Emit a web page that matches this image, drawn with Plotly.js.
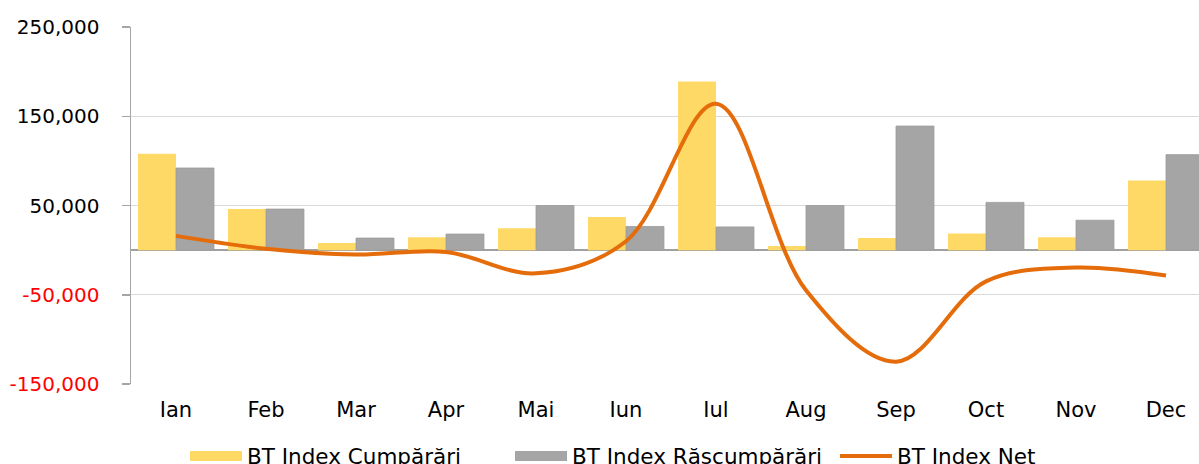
<!DOCTYPE html>
<html>
<head>
<meta charset="utf-8">
<script src="https://cdn.plot.ly/plotly-3.0.1.min.js"></script>
<style>
html, body { margin: 0; padding: 0; overflow: hidden; background: #fff; }
#chart { width: 1199px; height: 464px; }
</style>
</head>
<body>
<div id="chart"></div>
<script>
const months = ["Ian", "Feb", "Mar", "Apr", "Mai", "Iun", "Iul", "Aug", "Sep", "Oct", "Nov", "Dec"];
const cumparari = [108000, 46000, 8000, 14500, 24500, 37000, 189000, 4500, 13500, 18500, 14500, 78000];
const rascumparari = [92000, 46000, 13500, 18000, 50000, 26500, 26000, 50000, 139000, 53500, 33500, 107000];
const net = [16000, 1500, -5000, -2000, -26000, 10000, 164000, -45000, -125000, -35000, -19500, -28500];

const seriesNames = ["BT Index Cumpărări", "BT Index Răscumpărări", "BT Index Net"];
const yTickVals = [-150000, -50000, 50000, 150000, 250000];
const yTickText = ["-150,000", "-50,000", "50,000", "150,000", "250,000"];
const boundaryTicks = [0.5, 1.5, 2.5, 3.5, 4.5, 5.5, 6.5, 7.5, 8.5, 9.5, 10.5];

const colYellow = "#FFD966";
const colGray = "#A5A5A5";
const colOrange = "#E46C0A";
const FONT = "DejaVu Sans, Verdana, sans-serif";

const ticktextStyled = yTickText.map((t, i) =>
  yTickVals[i] < 0 ? '<span style="color:#FF0000">' + t + '</span>' : t);

const traces = [
  {
    type: "bar", x: months, y: cumparari, name: seriesNames[0],
    marker: { color: colYellow }, showlegend: false, hoverinfo: "x+y"
  },
  {
    type: "bar", x: months, y: rascumparari, name: seriesNames[1],
    marker: { color: colGray, line: { color: "#9A9A9A", width: 0.8 } }, showlegend: false, hoverinfo: "x+y"
  },
  {
    type: "scatter", mode: "lines", x: months, y: net, name: seriesNames[2],
    line: { color: colOrange, width: 4, shape: "spline", smoothing: 1 }, showlegend: false
  },
  // legend-only entries
  { type: "scatter", mode: "lines", x: [null], y: [null], name: seriesNames[0],
    line: { color: colYellow, width: 16 }, hoverinfo: "skip" },
  { type: "scatter", mode: "lines", x: [null], y: [null], name: seriesNames[1],
    line: { color: colGray, width: 16 }, hoverinfo: "skip" },
  { type: "scatter", mode: "lines", x: [null], y: [null], name: seriesNames[2],
    line: { color: colOrange, width: 4 }, hoverinfo: "skip" }
];

const xr = [-0.5, -0.5 + (1199 - 131) / 90];

const layout = {
  width: 1199, height: 464,
  margin: { l: 131, r: 0, t: 27, b: 80, pad: 0 },
  paper_bgcolor: "#ffffff", plot_bgcolor: "#ffffff",
  font: { family: FONT, size: 20, color: "#000000" },
  barmode: "group", bargap: 0.156, bargroupgap: 0,
  xaxis: {
    type: "category", range: xr, showline: false, showgrid: false, zeroline: false,
    ticks: "", tickfont: { family: FONT, size: 21, color: "#000" }, ticklabelstandoff: 11,
    fixedrange: true
  },
  xaxis2: {
    overlaying: "x", anchor: "free", position: 150 / 400, range: xr,
    tickmode: "array", tickvals: boundaryTicks, showticklabels: false,
    ticks: "outside", ticklen: 7, tickwidth: 1.5, tickcolor: "#A0A0A0",
    showline: false, showgrid: false, zeroline: false, fixedrange: true
  },
  yaxis: {
    range: [-150000, 250000], tickmode: "array", tickvals: yTickVals, ticktext: ticktextStyled,
    showgrid: true, gridcolor: "#D9D9D9", gridwidth: 1,
    zeroline: true, zerolinecolor: "#A0A0A0", zerolinewidth: 1.5,
    showline: true, linecolor: "#A6A6A6", linewidth: 1.5,
    ticks: "outside", ticklen: 8, tickwidth: 1.5, tickcolor: "#A6A6A6",
    tickfont: { family: FONT, size: 20, color: "#000" }, ticklabelstandoff: 18,
    fixedrange: true
  },
  legend: {
    orientation: "h", xref: "container", yref: "container",
    x: 185 / 1199, y: 1 - 456 / 464, xanchor: "left", yanchor: "middle",
    itemwidth: 52, entrywidth: 258, entrywidthmode: "pixels",
    font: { family: FONT, size: 21.5, color: "#000" },
    bgcolor: "rgba(0,0,0,0)", traceorder: "normal"
  },
  showlegend: true
};

Plotly.newPlot("chart", traces, layout, { displayModeBar: false, staticPlot: true });
</script>
</body>
</html>
